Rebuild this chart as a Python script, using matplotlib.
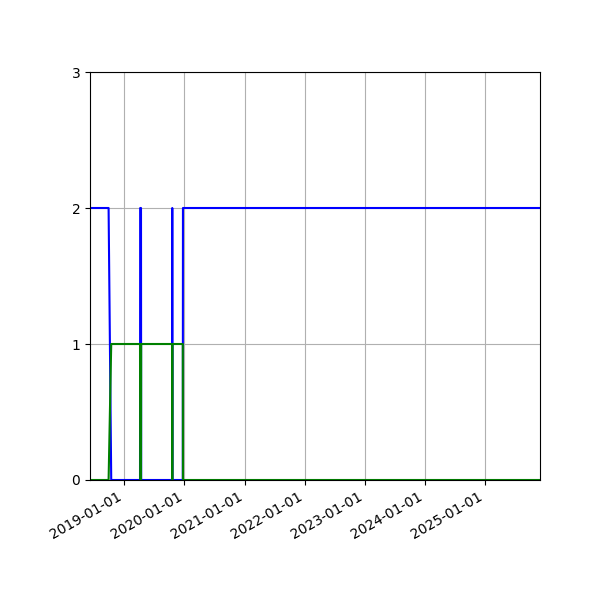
import numpy as np
import pandas as pd
import matplotlib
matplotlib.use("Agg")
from matplotlib import pyplot as plt
import matplotlib.dates as mdates

# change points (value holds until next date)
dates = pd.to_datetime([
    "2018-06-06", "2018-09-27", "2018-10-13",
    "2019-04-06", "2019-04-07", "2019-04-12", "2019-04-13",
    "2019-10-18", "2019-10-19", "2019-10-20",
    "2019-12-22", "2019-12-23", "2025-12-01",
])
blue_vals = [2, 2, 0, 0, 2, 2, 0, 0, 2, 0, 0, 2, 2]
green_vals = [0, 0, 1, 1, 0, 0, 1, 1, 0, 1, 1, 0, 0]
y_ticks = [0, 1, 2, 3]

fig, ax = plt.subplots(figsize=(6, 6), dpi=100)
ax.plot(dates, blue_vals, color="blue")
ax.plot(dates, green_vals, color="green")

ax.set_xlim(dates[0], dates[-1])
ax.set_ylim(0, 3)
ax.set_yticks(y_ticks)
ax.xaxis.set_major_locator(mdates.YearLocator())
ax.xaxis.set_major_formatter(mdates.DateFormatter("%Y-%m-%d"))
ax.grid(True)
fig.autofmt_xdate()
fig.subplots_adjust(left=0.15, right=0.9, top=0.88, bottom=0.2)

fig.savefig("out.png")
